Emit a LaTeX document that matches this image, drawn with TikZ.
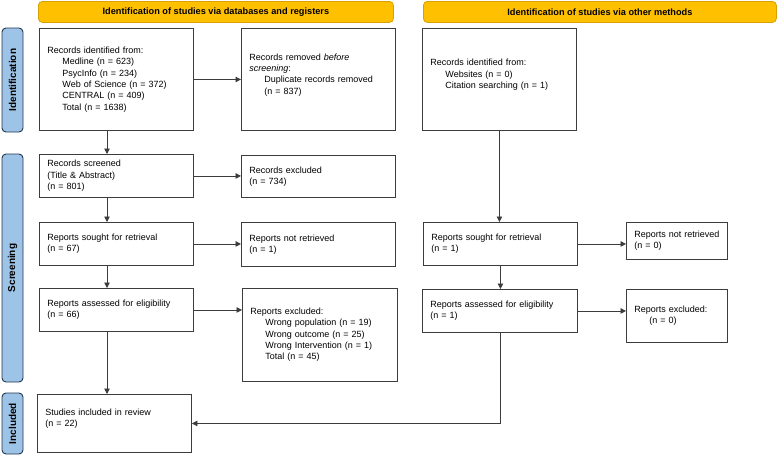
\documentclass[tikz,border=0pt]{standalone}
\usepackage{fontspec}
\setmainfont{Liberation Sans}
\usetikzlibrary{arrows.meta,calc}
\definecolor{hdrfill}{HTML}{FFC000}
\definecolor{hdrline}{HTML}{D9A000}
\definecolor{barfill}{HTML}{9DC3E6}
\definecolor{barline}{HTML}{24364F}
\definecolor{lncol}{HTML}{3C3C3C}
\newcommand{\myind}{\hspace*{15pt}}
\begin{document}
\begin{tikzpicture}[x=1pt,y=-1pt,
  box/.style={draw=lncol, line width=0.9pt, anchor=north west, inner xsep=8pt, inner ysep=0pt,
    align=left, text width=138pt, minimum width=154pt, font=\fontsize{9}{11.3}\selectfont},
  sbox/.style={box, text width=85pt, minimum width=101pt},
  hdr/.style={draw=hdrline, fill=hdrfill, line width=0.8pt, rounded corners=4pt, anchor=north west,
    minimum height=21pt, inner sep=0pt, font=\bfseries\fontsize{9.2}{11}\selectfont},
  phase/.style={draw=barline, fill=barfill, line width=0.9pt, rounded corners=4pt, rotate=90,
    minimum height=21pt, inner sep=0pt, font=\bfseries\fontsize{10}{12}\selectfont},
  arr/.style={draw=lncol, line width=0.8pt, -{Triangle[length=5.5pt,width=5.5pt]}}]
\useasboundingbox (0,0) rectangle (778,456);

% headers
\node[hdr, minimum width=355pt] (h1) at (38,1) {Identification of studies via databases and registers};
\node[hdr, minimum width=353pt] (h2) at (423,1) {Identification of studies via other methods};

% phase bars
\node[phase, minimum width=104pt] (p1) at (12.5,80) {Identification};
\node[phase, minimum width=228pt] (p2) at (12.5,268) {Screening};
\node[phase, minimum width=61pt] (p3) at (12.5,423.5) {Included};

% left column
\node[box, minimum height=102pt] (A) at (39,28) {Records identified from:\\
  \myind Medline (n = 623)\\
  \myind PsycInfo (n = 234)\\
  \myind Web of Science (n = 372)\\
  \myind CENTRAL (n = 409)\\
  \myind Total (n = 1638)};
\node[box, minimum height=102pt] (B) at (241,28) {Records removed \textit{before}\\
  \textit{screening}:\\
  \myind Duplicate records removed\\
  \myind (n = 837)\\ \mbox{}};
\node[box, minimum height=43pt] (D) at (39,154) {Records screened\\ (Title \& Abstract)\\ (n = 801)};
\node[box, minimum height=42pt] (E) at (241,155) {Records excluded\\ (n = 734)};
\node[box, minimum height=43pt] (F) at (39,222) {Reports sought for retrieval\\ (n = 67)};
\node[box, minimum height=44pt] (G) at (241,222) {Reports not retrieved\\ (n = 1)};
\node[box, minimum height=43pt] (H) at (39,288) {Reports assessed for eligibility\\ (n = 66)};
\node[box, minimum height=93pt, minimum width=155pt, text width=139pt] (I) at (242,288) {Reports excluded:\\
  \myind Wrong population (n = 19)\\
  \myind Wrong outcome (n = 25)\\
  \myind Wrong Intervention (n = 1)\\
  \myind Total (n = 45)};
\node[box, minimum height=58pt] (J) at (37,394) {Studies included in review\\ (n = 22)\\ \mbox{}};

% right column
\node[box, minimum height=102pt] (C) at (422,28) {Records identified from:\\
  \myind Websites (n = 0)\\
  \myind Citation searching (n = 1)\\ \mbox{}};
\node[box, minimum height=43pt] (K) at (423,222) {Reports sought for retrieval\\ (n = 1)};
\node[sbox, minimum height=37pt] (L) at (626,222) {\mbox{Reports not retrieved}\\ (n = 0)};
\node[box, minimum height=43pt, minimum width=155pt, text width=139pt] (M) at (422,289) {Reports assessed for eligibility\\ (n = 1)};
\node[sbox, minimum height=53pt] (N) at (626,289) {Reports excluded:\\ \myind (n = 0)};

% connectors
\coordinate (cl) at (107,0);
\draw[arr] (A.east) -- (A.east -| B.west);
\draw[arr] (cl |- A.south) -- (cl |- D.north);
\draw[arr] (D.east) -- (D.east -| E.west);
\draw[arr] (cl |- D.south) -- (cl |- F.north);
\draw[arr] (F.east) -- (F.east -| G.west);
\draw[arr] (cl |- F.south) -- (cl |- H.north);
\draw[arr] (H.east) -- (H.east -| I.west);
\draw[arr] (cl |- H.south) -- (cl |- J.north);
\draw[arr] (C.south) -- (C.south |- K.north);
\draw[arr] (K.east) -- (K.east -| L.west);
\draw[arr] (K.south) -- (K.south |- M.north);
\draw[arr] (M.east) -- (M.east -| N.west);
\draw[arr] (M.south) |- (J.east);
\end{tikzpicture}
\end{document}
